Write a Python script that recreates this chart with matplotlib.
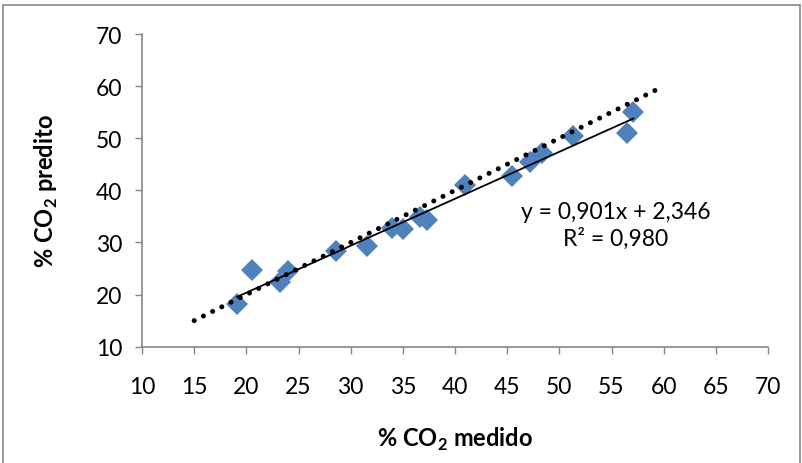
import matplotlib
matplotlib.use("Agg")
import matplotlib.pyplot as plt
from matplotlib.patches import Rectangle
import numpy as np

# measured vs predicted CO2 (%)
co2_medido = [19.1, 20.5, 23.2, 24.0, 28.6, 31.6, 34.0, 35.0, 36.6, 37.3,
              41.0, 45.5, 47.2, 48.3, 51.3, 56.5, 57.1]
co2_predito = [18.2, 24.8, 22.4, 24.6, 28.3, 29.4, 32.7, 32.5, 34.8, 34.4,
               41.0, 42.7, 45.4, 47.2, 50.5, 51.0, 55.0]

# y = x reference line
ref_x = [15, 60]

slope = 0.901
intercept = 2.346
eq_text = "y = 0,901x + 2,346\nR² = 0,980"

x_ticks = list(range(10, 75, 5))
y_ticks = list(range(10, 80, 10))

plt.rcParams['font.family'] = ['Lato', 'DejaVu Sans']
grey = "#868686"

fig = plt.figure(figsize=(8.02, 4.64), dpi=100)
ax = fig.add_axes([142 / 802, 1 - 347.7 / 464, 626 / 802, 312.7 / 464])

# outer chart border
fig.patches.append(Rectangle((3 / 802, -0.05), 797 / 802, 1.05 - 6 / 464,
                             transform=fig.transFigure, fill=False,
                             edgecolor=grey, linewidth=1.2))

# dotted y = x line
ax.plot(ref_x, ref_x, color="black", linewidth=3.6,
        linestyle=(0, (0.01, 2.05)), dash_capstyle="round", zorder=3)

# linear trendline over the data range
tx = np.array([min(co2_medido), max(co2_medido)])
ax.plot(tx, slope * tx + intercept, color="black", linewidth=1.3, zorder=2)

ax.plot(co2_medido, co2_predito, linestyle="none", marker="D", markersize=11.5,
        color="#4F81BD", markeredgewidth=0, zorder=1)

ax.text(55.4, 33.4, eq_text, ha="center", va="center", fontsize=16.5,
        linespacing=1.25)

ax.set_xlim(10, 70)
ax.set_ylim(10, 70)
ax.set_xticks(x_ticks)
ax.set_yticks(y_ticks)
ax.tick_params(axis="both", direction="out", length=5, color=grey,
               labelsize=16.5, width=1)
ax.tick_params(axis="x", pad=16)
ax.tick_params(axis="y", pad=9)

for s in ["top", "right"]:
    ax.spines[s].set_visible(False)
for s in ["left", "bottom"]:
    ax.spines[s].set_color(grey)
    ax.spines[s].set_linewidth(1.2)

ax.set_xlabel("% CO$_\\mathregular{2}$ medido", fontsize=17, fontweight="bold",
              labelpad=20)
ax.set_ylabel("% CO$_\\mathregular{2}$ predito", fontsize=17, fontweight="bold",
              labelpad=26)

fig.savefig("out.png", dpi=100)
